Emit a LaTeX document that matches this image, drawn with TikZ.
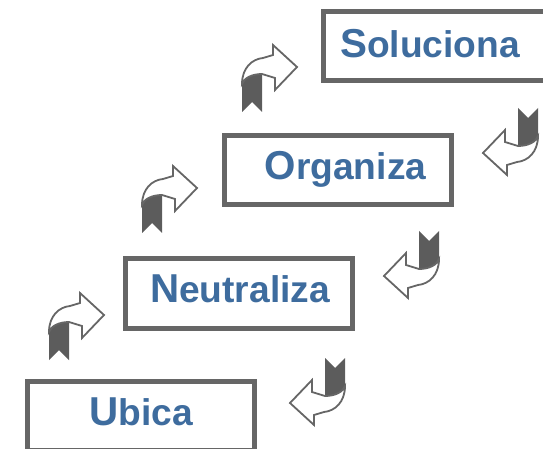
\documentclass[tikz,border=0pt]{standalone}
\usepackage{fontspec}
\setmainfont{Liberation Sans}
\usetikzlibrary{calc}

\definecolor{boxgray}{RGB}{102,102,102}
\definecolor{ribbongray}{RGB}{92,92,92}
\definecolor{wordblue}{RGB}{62,108,158}
\newcommand\bigletter[1]{{\fontsize{40.5}{42}\selectfont #1}}

\tikzset{
  curlarrow/.pic={
    % dark folded tail
    \fill[ribbongray] (-8,-6) -- (-8,32) -- (-18,22) -- (-28,32) -- (-28,4)
      .. controls (-26,-2) and (-18,-6) .. (-8,-6) -- cycle;
    % white band and head
    \filldraw[fill=white,draw=boxgray,line width=1.8bp,line join=miter]
      (-28,4) .. controls (-28,-12) and (-18,-21) .. (-7,-22) -- (3,-25)
      -- (3,-35) -- (27,-13) -- (5,10) -- (5,-2) -- (-8,-6)
      .. controls (-18,-6) and (-26,-2) .. (-28,4) -- cycle;
  }
}

\begin{document}
\begin{tikzpicture}[x=1bp,y=-1bp,
    stagebox/.style={draw=boxgray,line width=5bp,fill=white,
      minimum width=227bp,minimum height=69bp,inner sep=0pt},
    stageword/.style={anchor=base,inner sep=0pt,text=wordblue,
      font=\bfseries\fontsize{37.3}{42}\selectfont}]
    \useasboundingbox (0,0) rectangle (543,449);
    \node[stagebox] (soluciona) at (437,46) {};
    \node[stagebox] (organiza) at (338,170) {};
    \node[stagebox] (neutraliza) at (239,293.5) {};
    \node[stagebox] (ubica) at (141,416) {};
    \node[stageword] (tsol) at ($(soluciona.center)+(-7,12)$) {\bigletter{S}oluciona};
    \node[stageword] (torg) at ($(organiza.center)+(7.5,10)$) {\bigletter{O}rganiza};
    \node[stageword] (tneu) at ($(neutraliza.center)+(1,8.5)$) {\bigletter{N}eutraliza};
    \node[stageword] (tubi) at ($(ubica.center)+(0,9)$) {\bigletter{U}bica};
    \foreach \ax/\ay in {270/80,170/201,77/328}{
      \pic at (\ax,\ay) {curlarrow};
    }
    \foreach \ax/\ay in {510/140,411/263,317/390}{
      \pic[rotate=180] at (\ax,\ay) {curlarrow};
    }
  \end{tikzpicture}
\end{document}
